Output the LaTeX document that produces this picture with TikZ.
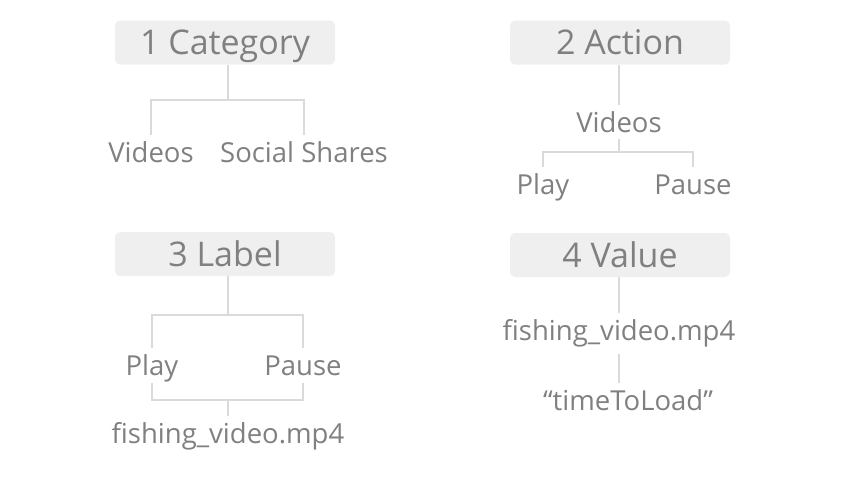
\documentclass[tikz,border=0pt]{standalone}
\usepackage{fontspec}
\setmainfont{Open Sans}
\usetikzlibrary{positioning}
\definecolor{boxgray}{HTML}{EFEFEF}
\definecolor{txtgray}{HTML}{808080}
\definecolor{linegray}{HTML}{DADADA}
\tikzset{
headbox/.style={
  rectangle,
  rounded corners=5pt,
  fill=boxgray,
  minimum width=220pt,
  minimum height=44pt,
  inner sep=0pt,
  text=txtgray,
  font=\fontsize{34}{34}\selectfont,
  text height=24pt,
  text depth=0pt,
  }
}
\tikzset{
leaf/.style={
  inner xsep=0pt,
  inner ysep=7pt,
  text=txtgray,
  font=\fontsize{27.5}{27.5}\selectfont,
  text height=20pt,
  text depth=0pt,
  }
}
\tikzset{
myline/.style={
  line width=2.5pt,
  draw=linegray
  }
}

\begin{document}
\begin{tikzpicture}[x=1pt,y=-1pt]
    \useasboundingbox (0,0) rectangle (854,480);

    % category part
    \node[headbox] (cat) at (225,42.5) {1 Category};
    \coordinate (catj) at (228,100);
    \node[leaf] (catvid) at (151,152.5) {Videos};
    \node[leaf] (catsoc) at (304,152.5) {Social Shares};

    % action part
    \node[headbox] (act) at (620,42.5) {2 Action};
    \node[leaf] (actvid) at (619,122) {Videos};
    \coordinate (actj) at (619,152);
    \node[leaf] (actplay) at (543,184) {Play};
    \node[leaf] (actpause) at (693,184) {Pause};

    % label part
    \node[headbox] (lab) at (225,254) {3 Label};
    \coordinate (labj) at (228,315);
    \node[leaf] (labplay) at (152,365.5) {Play};
    \node[leaf] (labpause) at (303,365.5) {Pause};
    \coordinate (labk) at (228,400);
    \node[leaf] (labfile) at (228,433.5) {fishing\_video.mp4};

    % value part
    \node[headbox] (val) at (620,255) {4 Value};
    \node[leaf] (valfile) at (619,330.5) {fishing\_video.mp4};
    \node[leaf] (valtime) at (628,400.5) {“timeToLoad”};

    % category edges
    \draw[myline] (cat.south -| catj) -- (catj);
    \draw[myline] (catvid.north) |- (catj) -| (catsoc.north);

    % action edges
    \draw[myline] (act.south -| actvid.north) -- (actvid.north);
    \draw[myline] (actvid.south) -- (actj);
    \draw[myline] (actplay.north) |- (actj) -| (actpause.north);

    % label edges
    \draw[myline] (lab.south -| labj) -- (labj);
    \draw[myline] (labplay.north) |- (labj) -| (labpause.north);
    \draw[myline] (labplay.south) |- (labk) -| (labpause.south);
    \draw[myline] (labk) -- (labfile.north);

    % value edges
    \draw[myline] (val.south -| valfile.north) -- (valfile.north);
    \draw[myline] ([yshift=-6pt]valfile.south) -- (valtime.north -| valfile.south);
\end{tikzpicture}
\end{document}
